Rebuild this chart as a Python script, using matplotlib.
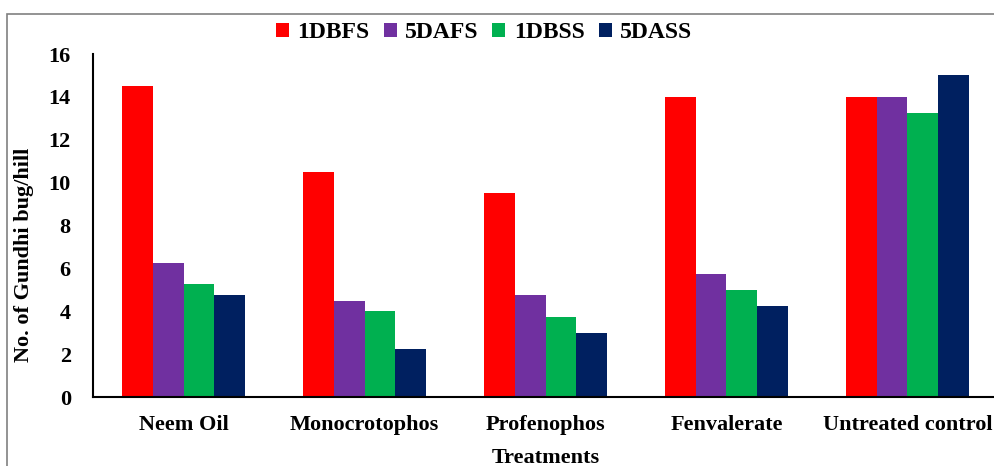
import matplotlib
matplotlib.use("Agg")
import matplotlib.pyplot as plt
import numpy as np
from matplotlib.patches import Rectangle

categories = ["Neem Oil", "Monocrotophos", "Profenophos", "Fenvalerate", "Untreated control"]
series_names = ["1DBFS", "5DAFS", "1DBSS", "5DASS"]
v_1dbfs = [14.5, 10.5, 9.5, 14.0, 14.0]
v_5dafs = [6.25, 4.5, 4.75, 5.75, 14.0]
v_1dbss = [5.25, 4.0, 3.75, 5.0, 13.25]
v_5dass = [4.75, 2.25, 3.0, 4.25, 15.0]
yticks = [0, 2, 4, 6, 8, 10, 12, 14, 16]
colors = ["#FF0000", "#7030A0", "#00B050", "#002060"]

plt.rcParams['font.family'] = ['Liberation Serif', 'DejaVu Serif']
plt.rcParams['font.weight'] = 'bold'

fig = plt.figure(figsize=(9.95, 4.66), dpi=100)
ax = fig.add_axes([0.0935, 0.148, 0.9095, 0.736])

x = np.arange(len(categories))
w = 0.171
data = [v_1dbfs, v_5dafs, v_1dbss, v_5dass]
for i, (name, vals, c) in enumerate(zip(series_names, data, colors)):
    ax.bar(x + (i - 1.5) * w, vals, width=w, color=c, label=name)

ax.set_xlim(-0.5, 4.5)
ax.set_ylim(0, 16)
ax.set_yticks(yticks)
ax.set_xticks(x)
ax.set_xticklabels(categories, fontsize=16, fontweight='bold')
ax.tick_params(axis='y', length=0, pad=16, labelsize=16)
ax.tick_params(axis='x', length=0, pad=13)
for lab in ax.get_yticklabels():
    lab.set_fontweight('bold')
for s in ['top', 'right']:
    ax.spines[s].set_visible(False)
ax.spines['left'].set_linewidth(1.5)
ax.spines['bottom'].set_linewidth(1.5)

fig.text(24 / 995, 1 - 255 / 466, "No. of Gundhi bug/hill", rotation=90, fontsize=16,
         fontweight='bold', ha='center', va='center')
ax.set_xlabel("Treatments", fontsize=16, fontweight='bold', labelpad=9)

leg = ax.legend(loc='center', bbox_to_anchor=(484 / 995, 1 - 33 / 466),
                bbox_transform=fig.transFigure, ncol=4, frameon=False,
                fontsize=17, handlelength=0.55, handleheight=0.55, handletextpad=0.35,
                columnspacing=0.6, borderaxespad=0.0)

fig.patches.append(Rectangle((7 / 995, -0.05), 1.2, 1 - 14 / 466 + 0.05, transform=fig.transFigure,
                             fill=False, edgecolor='#808080', linewidth=1.2))

fig.savefig("out.png", dpi=100)
